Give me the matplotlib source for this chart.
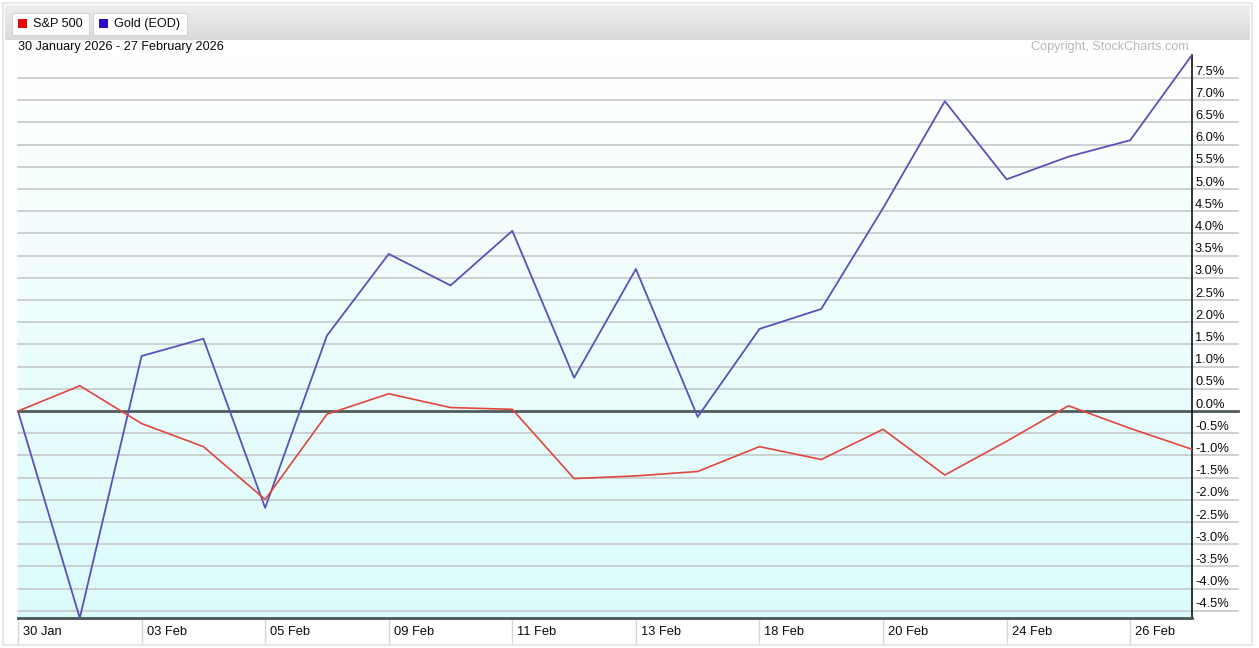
import matplotlib
matplotlib.use("Agg")
import matplotlib.pyplot as plt
import numpy as np
from matplotlib.colors import LinearSegmentedColormap
from matplotlib.patches import Rectangle
from matplotlib.transforms import ScaledTranslation

plt.rcParams['font.family'] = ['Liberation Sans', 'DejaVu Sans']

# trading days 30 Jan - 27 Feb 2026 (16 Feb market holiday)
dates = ['30 Jan', '02 Feb', '03 Feb', '04 Feb', '05 Feb', '06 Feb', '09 Feb',
         '10 Feb', '11 Feb', '12 Feb', '13 Feb', '17 Feb', '18 Feb', '19 Feb',
         '20 Feb', '23 Feb', '24 Feb', '25 Feb', '26 Feb', '27 Feb']
gold = [0.0, -4.66, 1.24, 1.63, -2.18, 1.70, 3.54, 2.83, 4.06, 0.75,
        3.20, -0.13, 1.85, 2.30, 4.57, 6.98, 5.22, 5.73, 6.10, 8.02]
sp500 = [0.0, 0.57, -0.28, -0.80, -1.99, -0.07, 0.39, 0.08, 0.04, -1.52,
         -1.46, -1.36, -0.80, -1.09, -0.41, -1.44, -0.68, 0.12, -0.39, -0.86]
series_names = ['S&P 500', 'Gold (EOD)']
legend_colors = ['#e00808', '#2a10c8']
line_colors = ['#e0463e', '#5a50b8']
yticks = np.arange(-4.5, 7.51, 0.5)
xtick_idx = list(range(0, len(dates), 2))

W, H = 1259, 648
fig = plt.figure(figsize=(W / 100, H / 100), dpi=100)
fig.patch.set_facecolor('white')


def fx(x):
    return x / W


def fy(y):
    return 1 - y / H


# outer frame
fig.add_artist(Rectangle((fx(3), fy(645)), fx(1249) - fx(0), fy(0) - fy(642),
                         transform=fig.transFigure, fill=False,
                         edgecolor='#e8e8e8', lw=1.5))

# header bar with gradient
hdr = fig.add_axes([fx(5), fy(40), fx(1245), 35 / H])
hdr_cmap = LinearSegmentedColormap.from_list('hdr', ['#efefef', '#dadada'])
hdr.imshow(np.linspace(0, 1, 50).reshape(-1, 1), aspect='auto', cmap=hdr_cmap,
           extent=[0, 1, 0, 1])
hdr.set_axis_off()

# legend buttons
box_x = [12, 93]
box_w = [77, 94]
for name, col, bx, bw in zip(series_names, legend_colors, box_x, box_w):
    fig.add_artist(Rectangle((fx(bx + 1), fy(36)), bw / W, 22 / H,
                             transform=fig.transFigure, facecolor='#a8a8a8',
                             edgecolor='none'))
    fig.add_artist(Rectangle((fx(bx), fy(35)), bw / W, 22 / H,
                             transform=fig.transFigure, facecolor='white',
                             edgecolor='#d4d4d4', lw=0.8))
    fig.add_artist(Rectangle((fx(bx + 6), fy(28)), 9 / W, 9 / H,
                             transform=fig.transFigure, facecolor=col,
                             edgecolor='none'))
    fig.text(fx(bx + 21), fy(24), name, fontsize=9.1, color='#0a0a0a',
             ha='left', va='center')

fig.text(fx(18), fy(47), '30 January 2026 - 27 February 2026', fontsize=9.05,
         color='#0a0a0a', ha='left', va='center')
fig.text(fx(1189), fy(47), 'Copyright, StockCharts.com', fontsize=9.1,
         color='#b8b8b8', ha='right', va='center')

# main chart
ax = fig.add_axes([fx(18), fy(618), (1192 - 18) / W, (618 - 55) / H])
ax.set_facecolor('white')
x = np.arange(len(dates))
ymin, ymax = min(gold + sp500), max(gold + sp500)
ax.set_xlim(0, len(dates) - 1)
ax.set_ylim(ymin, ymax)

bg_cmap = LinearSegmentedColormap.from_list('bg', ['#dbfbfb', '#ffffff'])
ax.imshow(np.linspace(0, 1, 200).reshape(-1, 1), aspect='auto', cmap=bg_cmap,
          origin='lower', extent=[0, len(dates) - 1, ymin, ymax], zorder=0)

grid_end = (1238 - 18) / (1192 - 18)
ytrans = ax.get_yaxis_transform()
for v in yticks:
    if abs(v) < 1e-9:
        ax.plot([0, grid_end], [v, v], transform=ytrans, color='#505a5a',
                lw=2, clip_on=False, zorder=2)
    else:
        ax.plot([0, grid_end], [v, v], transform=ytrans, color='#c6c9c9',
                lw=1.2, clip_on=False, zorder=1)

ax.plot(x, gold, color=line_colors[1], lw=1.3, zorder=3)
ax.plot(x, sp500, color=line_colors[0], lw=1.2, zorder=4)

for side in ['top', 'left']:
    ax.spines[side].set_visible(False)
ax.spines['bottom'].set_color('#4a5454')
ax.spines['bottom'].set_linewidth(2)
ax.spines['right'].set_color('#111111')
ax.spines['right'].set_linewidth(1.2)

ax.yaxis.tick_right()
ax.set_yticks(yticks)
ax.set_yticklabels([f'{v:.1f}%' for v in yticks])
ax.tick_params(axis='y', length=0, pad=2.2, labelsize=9.3, labelcolor='#0a0a0a')
for lab in ax.get_yticklabels():
    lab.set_transform(lab.get_transform()
                      + ScaledTranslation(0, 8 / 100, fig.dpi_scale_trans))

ax.set_xticks(xtick_idx)
ax.set_xticklabels([dates[i] for i in xtick_idx])
ax.tick_params(axis='x', length=18, width=1, color='#d6d6d6', pad=0,
               labelsize=9.3, labelcolor='#0a0a0a')
for lab in ax.get_xticklabels():
    lab.set_ha('left')
    lab.set_va('center')
    lab.set_transform(lab.get_transform()
                      + ScaledTranslation(5 / 100, 11 / 100, fig.dpi_scale_trans))

fig.savefig('out.png', dpi=100)
